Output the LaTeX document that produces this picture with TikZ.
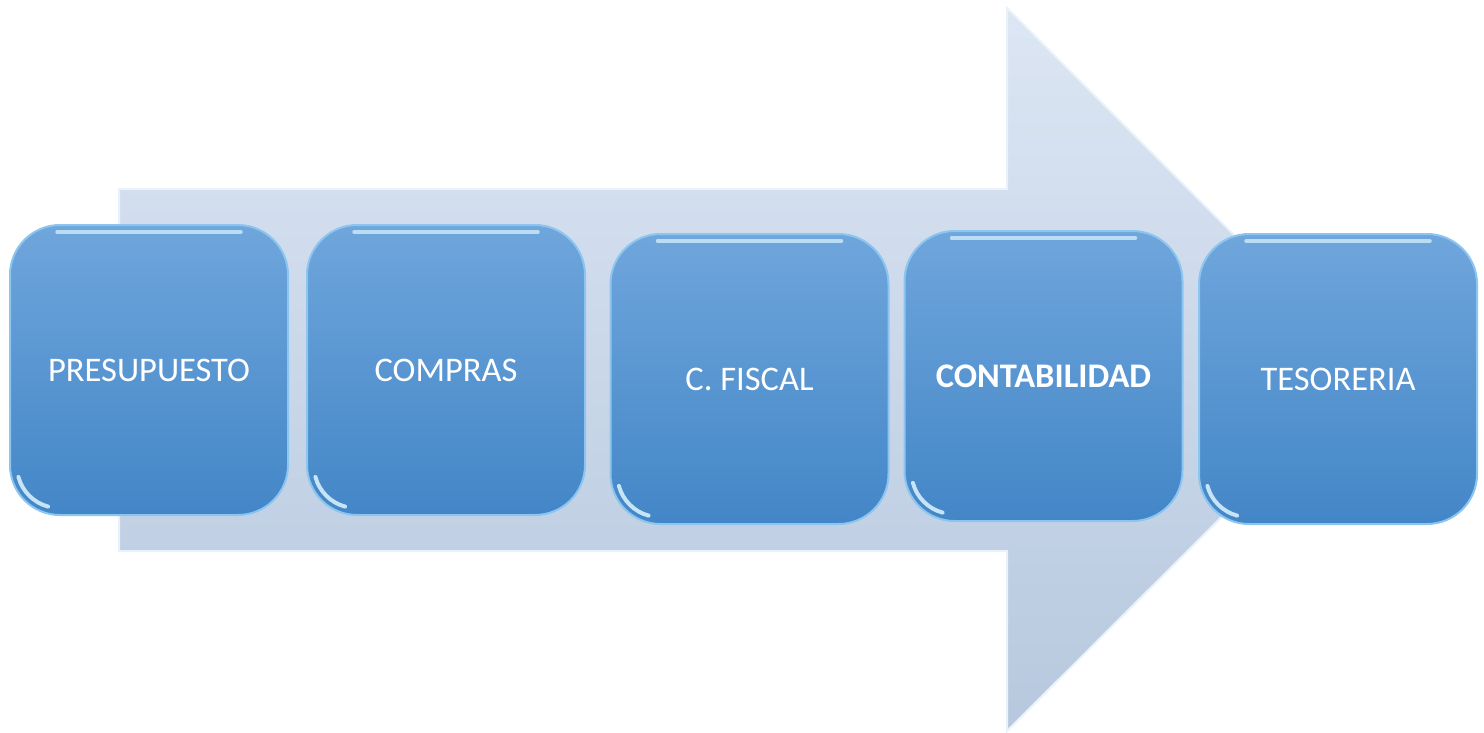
\documentclass[tikz,border=0pt]{standalone}
\usepackage{fontspec}
\setmainfont{Carlito}
\definecolor{arrtop}{HTML}{DCE6F4}
\definecolor{arrbot}{HTML}{B7C8DE}
\definecolor{arredge}{HTML}{E9F1FB}
\definecolor{boxtop}{HTML}{6FA6DC}
\definecolor{boxbot}{HTML}{4386C7}
\definecolor{boxedge}{HTML}{8CC6F0}
\definecolor{gloss}{HTML}{DDF5FF}
\tikzset{
  stepbox/.style={rectangle, rounded corners=50pt, minimum width=278pt, minimum height=290pt,
    top color=boxtop, bottom color=boxbot, draw=boxedge, line width=2pt,
    text=white, font=\fontsize{34.5}{40}\selectfont, inner sep=0pt},
  glossline/.style={draw=gloss, line width=3.5pt, opacity=0.7, line cap=round},
  glossarc/.style={draw=gloss, line width=4pt, opacity=0.85, line cap=round}
}
\begin{document}
\begin{tikzpicture}[x=1pt,y=-1pt]
\useasboundingbox (0,0) rectangle (1484,732);
% big background arrow
\draw[arredge, line width=2pt, top color=arrtop, bottom color=arrbot]
  (119,189) -- (1007,189) -- (1007,8) -- (1369,370) -- (1007,731) -- (1007,551) -- (119,551) -- cycle;
% steps
\node[stepbox] (b1) at (149,370) {PRESUPUESTO};
\node[stepbox] (b2) at (446,370) {COMPRAS};
\node[stepbox] (b3) at (749.5,379) {C. FISCAL};
\node[stepbox] (b4) at (1043.5,376) {\bfseries CONTABILIDAD};
\node[stepbox] (b5) at (1338,379) {TESORERIA};
% glossy highlights
\foreach \b in {b1,b2,b3,b4,b5}{
  \draw[glossline] ([xshift=48pt,yshift=-8pt]\b.north west) -- ([xshift=-48pt,yshift=-8pt]\b.north east);
  \draw[glossarc] ([xshift=9.4pt,yshift=39.1pt]\b.south west)
    .. controls ([xshift=13.3pt,yshift=24.6pt]\b.south west) and ([xshift=24.6pt,yshift=13.3pt]\b.south west)
    .. ([xshift=39.1pt,yshift=9.4pt]\b.south west);
}
\end{tikzpicture}
\end{document}
